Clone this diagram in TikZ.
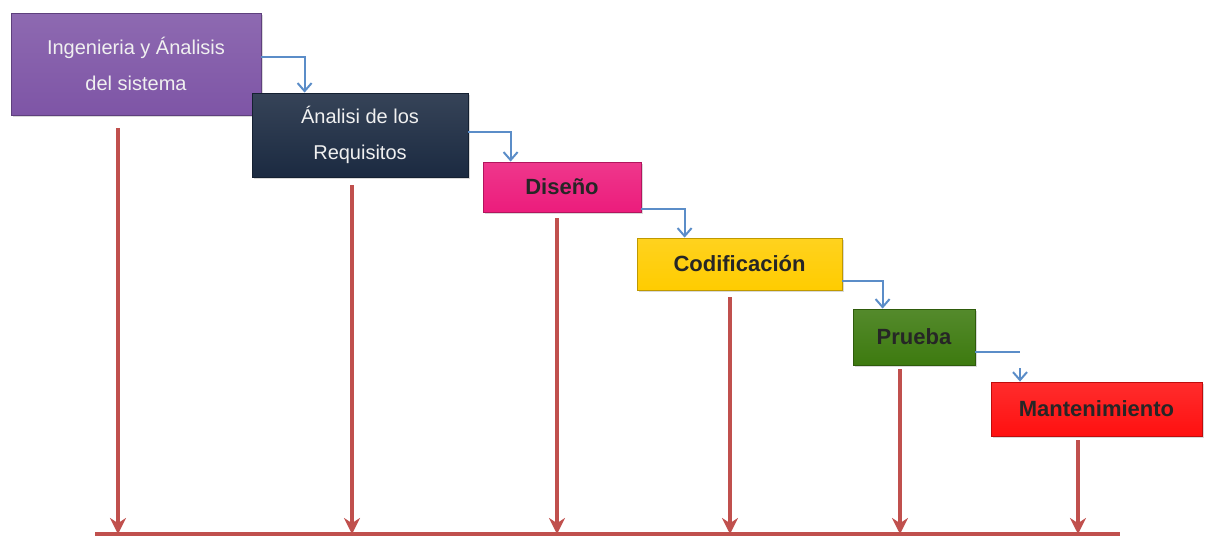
\documentclass[tikz,border=0pt]{standalone}
\usepackage{fontspec}
\setmainfont{Liberation Sans}
\usetikzlibrary{positioning,arrows.meta,shadows}

\definecolor{sispurple}{HTML}{7E55A6}
\definecolor{reqnavy}{HTML}{1B2A41}
\definecolor{dispink}{HTML}{EC1C7C}
\definecolor{codyellow}{HTML}{FFCC00}
\definecolor{prugreen}{HTML}{3D7A0F}
\definecolor{manred}{HTML}{FF1010}
\definecolor{flowblue}{HTML}{5B8DC8}
\definecolor{dropred}{HTML}{C0504D}

\begin{document}
\begin{tikzpicture}[x=1pt, y=-1pt,
    stagebox/.style={rectangle, draw=#1!75!black, top color=#1!88!white, bottom color=#1, thick, inner sep=0pt, align=center, drop shadow={shadow xshift=2pt, shadow yshift=-2pt, opacity=0.3}},
    lighttext/.style={font=\fontsize{20}{36}\selectfont, text=white!88!gray},
    darktext/.style={font=\fontsize{22}{26}\selectfont\bfseries, text=black!85},
    flow/.style={-{Straight Barb[length=8pt,width=14pt]}, draw=flowblue, line width=2pt},
    drop/.style={-{Stealth[length=16pt,width=16pt]}, draw=dropred, line width=4pt}
    ]
        \useasboundingbox (0,0) rectangle (1211,538);

        %Nodes
        \node[stagebox=sispurple, lighttext, minimum width=250pt, minimum height=102pt]
            (sis) at (136,64)      {Ingenieria y Ánalisis\\del sistema};
        \node[stagebox=reqnavy, lighttext, minimum width=216pt, minimum height=84pt]
            (req) at (360,135)     {Ánalisi de los\\Requisitos};
        \node[stagebox=dispink, darktext, minimum width=158pt, minimum height=50pt]
            (dis) at (562,187)     {Diseño};
        \node[stagebox=codyellow, darktext, minimum width=205pt, minimum height=52pt]
            (cod) at (739.5,264)   {Codificación};
        \node[stagebox=prugreen, darktext, minimum width=122pt, minimum height=56pt]
            (pru) at (914,337)     {Prueba};
        \node[stagebox=manred, darktext, minimum width=211pt, minimum height=54pt]
            (man) at (1096.5,409)  {Mantenimiento};

        \coordinate (gap) at (1020,352);
        \coordinate (basel) at (95,534);
        \coordinate (baser) at (1120,534);

        %Lines
        \draw[flow] (sis.east |- 0,57) -| ([xshift=53pt]req.north west);
        \draw[flow] (req.east |- 0,132) -| ([xshift=28pt]dis.north west);
        \draw[flow] (dis.east |- 0,209) -| ([xshift=48pt]cod.north west);
        \draw[flow] (cod.east |- 0,281) -| ([xshift=30pt]pru.north west);
        \draw[flow, -] (pru.east |- gap) -- (gap);
        \draw[flow] ([yshift=-16pt]gap) -- (gap |- man.north);

        \draw[draw=dropred, line width=4pt] (basel) -- (baser);
        \foreach \stage/\pos/\gap in {sis/118/13, req/352/8, dis/557/6, cod/730/7, pru/900/4, man/1078/4}
            \draw[drop, shorten <=\gap pt] (\pos,0 |- \stage.south) -- (\pos,0 |- basel);
    \end{tikzpicture}
\end{document}
